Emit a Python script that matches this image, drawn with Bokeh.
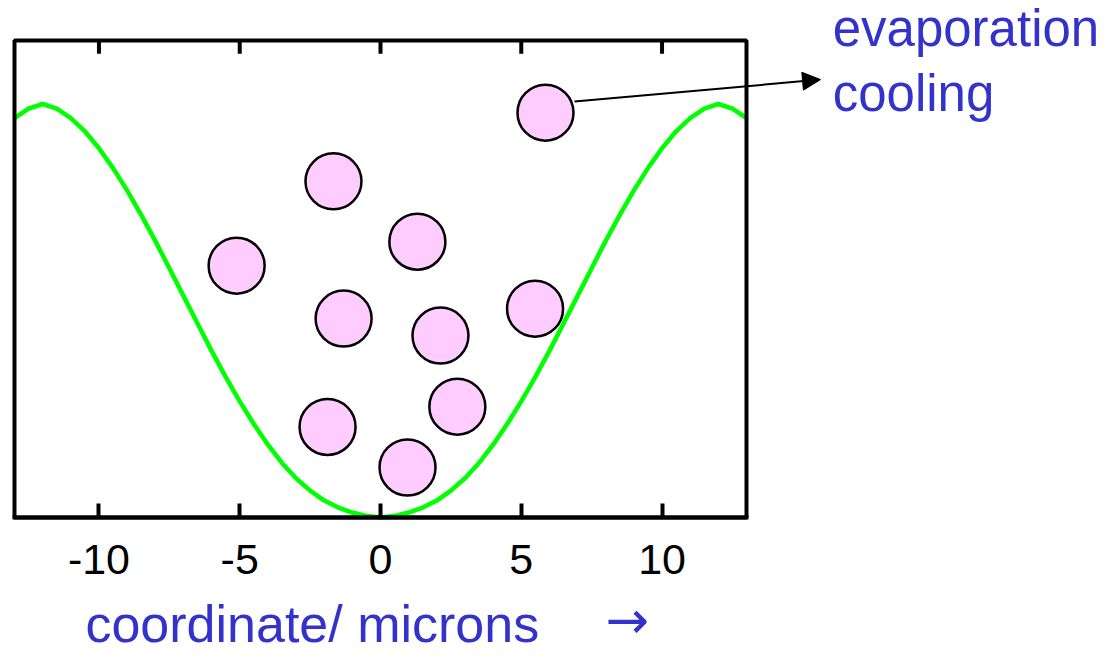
from bokeh.plotting import figure
from bokeh.models import Range1d, FixedTicker, Label, Arrow, NormalHead, BoxAnnotation
from bokeh.embed import file_html
from bokeh.resources import INLINE

# ---- data ----
tick_values = [-10, -5, 0, 5, 10]
tick_labels = ["-10", "-5", "0", "5", "10"]

curve_x = [-13, -12.5, -12, -11.5, -11, -10.5, -10, -9.5, -9, -8.5, -8, -7.5, -7, -6.5, -6,
           -5.5, -5, -4.5, -4, -3.5, -3, -2.5, -2, -1.5, -1, -0.5, 0,
           0.5, 1, 1.5, 2, 2.5, 3, 3.5, 4, 4.5, 5, 5.5, 6, 6.5, 7, 7.5, 8, 8.5, 9,
           9.5, 10, 10.5, 11, 11.5, 12, 12.5, 13]
curve_y = [0.966, 0.989, 1.000, 0.989, 0.966, 0.934, 0.893, 0.845, 0.791, 0.732, 0.669, 0.603,
           0.536, 0.469, 0.403, 0.340, 0.281, 0.226, 0.176, 0.132, 0.095, 0.065, 0.041, 0.024,
           0.012, 0.004, 0.000,
           0.004, 0.012, 0.024, 0.041, 0.065, 0.095, 0.132, 0.176, 0.226, 0.281, 0.340, 0.403,
           0.469, 0.536, 0.603, 0.669, 0.732, 0.791, 0.845, 0.893, 0.934, 0.966, 0.989, 1.000,
           0.989, 0.966]

atom_x = [5.86, -1.67, 1.31, -5.11, -1.31, 5.49, 2.13, 2.73, -1.88, 0.96]
atom_y = [0.979, 0.813, 0.667, 0.609, 0.481, 0.505, 0.440, 0.268, 0.219, 0.121]

box_left, box_right, box_top = -13, 13, 1.1536

annotation_text = ["evaporation", "cooling"]
x_label_text = "coordinate/ microns"
x_label_arrow = "\u2192"

FONT = "Liberation Sans"
BLUE = "#3333cc"

p = figure(width=1101, height=654, output_backend="svg", toolbar_location=None,
           x_range=Range1d(-13.497, 25.609), y_range=Range1d(-0.3313, 1.2503),
           y_axis_location=None, min_border_left=0, min_border_right=0,
           min_border_top=0, min_border_bottom=0)
p.outline_line_color = None
p.xgrid.visible = False
p.ygrid.visible = False
p.background_fill_color = "white"
p.border_fill_color = "white"

# bottom axis, drawn at y = 0 inside the frame
ax = p.xaxis[0]
ax.fixed_location = 0
ax.bounds = (box_left, box_right)
ax.ticker = FixedTicker(ticks=tick_values)
ax.major_label_overrides = {v: t for v, t in zip(tick_values, tick_labels)}
ax.axis_line_width = 4
ax.axis_line_cap = "square"
ax.major_tick_line_width = 4
ax.major_tick_in = 14
ax.major_tick_out = 0
ax.minor_tick_line_color = None
ax.major_label_text_font = FONT
ax.major_label_text_font_size = "43px"
ax.major_label_text_color = "black"
ax.major_label_standoff = 27

# frame box
p.add_layout(BoxAnnotation(left=box_left, right=box_right, bottom=0, top=box_top,
                           fill_color=None, fill_alpha=0, line_color="black",
                           line_alpha=1, line_width=4))

# inward ticks along the top of the box
p.segment(x0=tick_values, y0=[box_top] * len(tick_values),
          x1=tick_values, y1=[box_top - 0.032] * len(tick_values),
          line_color="black", line_width=4)

# potential curve
p.line(curve_x, curve_y, line_color="#00ff00", line_width=4.5)

# atoms
p.scatter(x=atom_x, y=atom_y, marker="circle", size=56, fill_color="#ffccff",
          line_color="black", line_width=2.5)

# arrow
p.add_layout(Arrow(end=NormalHead(size=18, fill_color="black", line_color="black"),
                   x_start=6.89, y_start=1.006, x_end=15.63, y_end=1.059,
                   line_color="black", line_width=2))

# annotation texts
p.add_layout(Label(x=16.06, y=1.182, text=annotation_text[0], text_font=FONT,
                   text_font_size="51px", text_color=BLUE, text_baseline="alphabetic"))
p.add_layout(Label(x=16.06, y=1.025, text=annotation_text[1], text_font=FONT,
                   text_font_size="51px", text_color=BLUE, text_baseline="alphabetic"))

# x axis label
p.add_layout(Label(x=-10.48, y=-0.2587, text=x_label_text, text_font=FONT,
                   text_font_size="52px", text_color=BLUE, text_baseline="alphabetic"))
p.add_layout(Label(x=7.99, y=-0.2490, text=x_label_arrow, text_font="DejaVu Sans",
                   text_font_size="52px", text_color=BLUE, text_baseline="alphabetic"))

open("out.html", "w").write(file_html(p, INLINE))
